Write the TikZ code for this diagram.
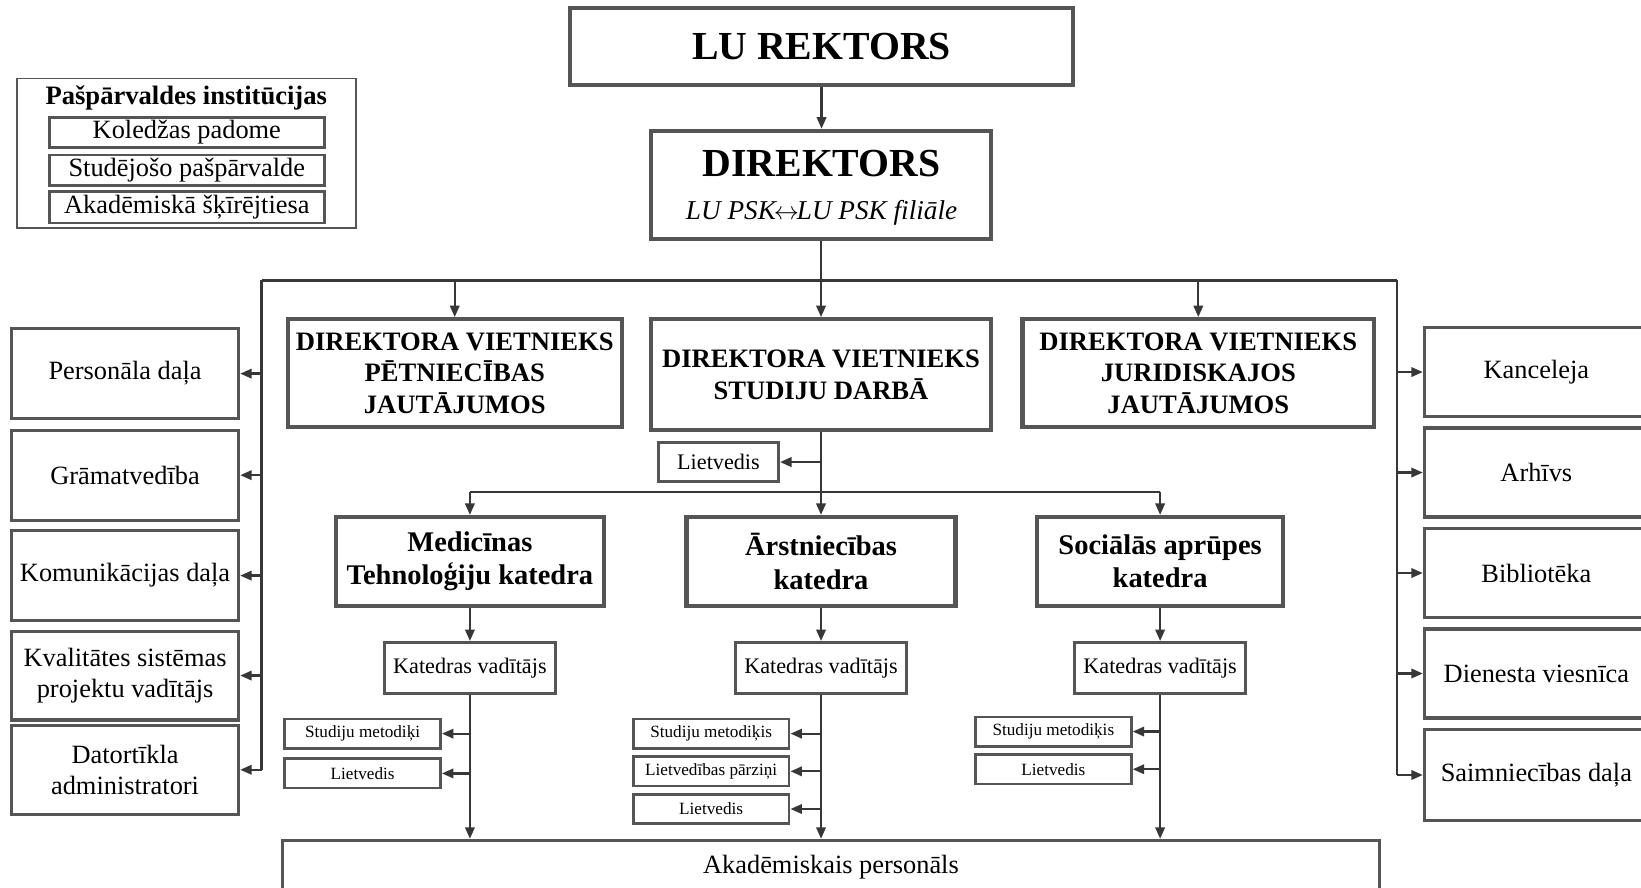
\documentclass[tikz,border=0pt]{standalone}
\usepackage{fontspec}
\setmainfont{Liberation Serif}
\usetikzlibrary{arrows.meta}
\definecolor{bgray}{RGB}{85,85,85}
\definecolor{lgray}{RGB}{55,55,55}
\begin{document}
\begin{tikzpicture}[x=0.5pt,y=-0.5pt,
  sz/.style 2 args={minimum width=#1*0.5pt, minimum height=#2*0.5pt},
  box/.style={draw=bgray, fill=white, inner sep=0pt, align=center, line width=1.5pt},
  thickbox/.style={box, line width=2pt},
  smallbox/.style={box, line width=1.3pt},
  conn/.style={draw=lgray, line width=1.1pt},
  arr/.style={conn, -{Triangle[length=5.5pt,width=4.5pt]}},
  ftbig/.style={font=\fontsize{19}{22}\selectfont\bfseries},
  ftdv/.style={font=\fontsize{12.7}{15}\selectfont\bfseries},
  ftkat/.style={font=\fontsize{13.6}{16}\selectfont\bfseries},
  ftnorm/.style={font=\fontsize{12.6}{15}\selectfont},
  ftmid/.style={font=\fontsize{10.6}{12}\selectfont},
  ftsmall/.style={font=\fontsize{8.2}{10}\selectfont},
]
\fill[white] (0,0) rectangle (1568,848);
\useasboundingbox (0,0) rectangle (1568,848);

% legend
\node[draw=bgray,line width=0.8pt,sz={324}{143}] (leg) at (178,146.5) {};
\node[ftdv] (legt) at (178,94) {Pašpārvaldes institūcijas};
\node[smallbox,sz={263}{29},ftnorm] (l1) at (178.5,126.5) {Koledžas padome};
\node[smallbox,sz={263}{29},ftnorm] (l2) at (178.5,162.5) {Studējošo pašpārvalde};
\node[smallbox,sz={263}{30},ftnorm] (l3) at (178.5,198) {Akadēmiskā šķīrējtiesa};

% top
\node[thickbox,sz={480}{73},ftbig] (rek) at (785,44.5) {LU REKTORS};
\node[thickbox,sz={325}{103}] (dir) at (784.5,176.5) {};
\node[ftbig,anchor=base] (dirt) at (785,169) {DIREKTORS};
\node[font=\fontsize{13}{15}\selectfont\itshape,anchor=base] (dirs) at (785,210) {LU PSK\kern-1pt$\leftrightarrow$\kern-1pt LU PSK filiāle};

% deputies
\node[thickbox,sz={319}{103},ftdv] (dvp) at (434.5,356.5) {DIREKTORA VIETNIEKS\\PĒTNIECĪBAS\\JAUTĀJUMOS};
\node[thickbox,sz={325}{106},ftdv] (dvs) at (784.5,358) {DIREKTORA VIETNIEKS\\STUDIJU DARBĀ};
\node[thickbox,sz={336}{103},ftdv] (dvj) at (1145,356.5) {DIREKTORA VIETNIEKS\\JURIDISKAJOS\\JAUTĀJUMOS};

% left units
\node[box,sz={217}{86},ftnorm] (pers) at (119.5,357) {Personāla daļa};
\node[box,sz={217}{86},ftnorm] (gram) at (119.5,454) {Grāmatvedība};
\node[box,sz={217}{86},ftnorm] (kom) at (119.5,550) {Komunikācijas daļa};
\node[box,sz={217}{85},ftnorm] (kval) at (119.5,645.5) {Kvalitātes sistēmas\\projektu vadītājs};
\node[box,sz={217}{85},ftnorm] (dat) at (119.5,735.5) {Datortīkla\\administratori};

% right units
\node[box,sz={214}{85},ftnorm] (kanc) at (1468,355.5) {Kanceleja};
\node[box,sz={214}{85},ftnorm] (arh) at (1468,451.5) {Arhīvs};
\node[box,sz={214}{85},ftnorm] (bib) at (1468,547.5) {Bibliotēka};
\node[box,sz={214}{85},ftnorm] (dien) at (1468,643.5) {Dienesta viesnīca};
\node[box,sz={214}{87},ftnorm] (saim) at (1468,740.5) {Saimniecības daļa};

% study deputy side
\node[smallbox,sz={115}{37},ftmid] (lv0) at (686.5,441.5) {Lietvedis};

% departments
\node[thickbox,sz={256}{85},ftkat] (med) at (449,536.5) {Medicīnas\\Tehnoloģiju katedra};
\node[thickbox,sz={257}{85},ftkat] (arst) at (784.5,536.5) {Ārstniecības\\katedra};
\node[thickbox,sz={235}{85},ftkat] (soc) at (1108.5,536.5) {Sociālās aprūpes\\katedra};

\node[box,sz={163}{49},ftmid] (kv1) at (449,638.5) {Katedras vadītājs};
\node[box,sz={163}{49},ftmid] (kv2) at (784.5,638.5) {Katedras vadītājs};
\node[box,sz={163}{49},ftmid] (kv3) at (1108.5,638.5) {Katedras vadītājs};

\node[smallbox,sz={149}{28},ftsmall] (sm1) at (346.5,701) {Studiju metodiķi};
\node[smallbox,sz={149}{28},ftsmall] (lv1) at (346.5,739) {Lietvedis};
\node[smallbox,sz={149}{28},ftsmall] (sm2) at (679.5,701) {Studiju metodiķis};
\node[smallbox,sz={149}{28},ftsmall] (lp2) at (679.5,737) {Lietvedības pārziņi};
\node[smallbox,sz={149}{28},ftsmall] (lv2) at (679.5,773) {Lietvedis};
\node[smallbox,sz={149}{28},ftsmall] (sm3) at (1006.5,699) {Studiju metodiķis};
\node[smallbox,sz={149}{28},ftsmall] (lv3) at (1006.5,735) {Lietvedis};

\node[box,sz={1048}{52},ftnorm] (akad) at (794,829) {Akadēmiskais personāls};

% connectors
\coordinate (bl) at (250,268);
\coordinate (br) at (1335,268);
\coordinate (bus2) at (785,470);
\draw[arr] (rek.south) -- (rek.south |- dir.north);
\draw[conn] (bl) -- (br);
\draw[arr] (dir.south) -- (dvs.north);
\draw[arr] (dvp.north |- bl) -- (dvp.north);
\draw[arr] (dvj.north |- bl) -- (dvj.north);

\draw[conn] (bl) -- (bl |- dat.east);
\foreach \n in {pers,gram,kom,kval,dat} \draw[arr] (bl |- \n.east) -- (\n.east);
\draw[conn] (br) -- (br |- saim.west);
\foreach \n in {kanc,arh,bib,dien,saim} \draw[arr] (br |- \n.west) -- (\n.west);

\draw[arr] (dvs.south |- lv0.east) -- (lv0.east);
\draw[arr] (dvs.south) -- (arst.north);
\draw[conn] (med.north |- bus2) -- (soc.north |- bus2);
\draw[arr] (med.north |- bus2) -- (med.north);
\draw[arr] (soc.north |- bus2) -- (soc.north);

\draw[arr] (med.south) -- (kv1.north);
\draw[arr] (arst.south) -- (kv2.north);
\draw[arr] (soc.south) -- (kv3.north);

\draw[arr] (kv1.south) -- (kv1.south |- akad.north);
\draw[arr] (kv2.south) -- (kv2.south |- akad.north);
\draw[arr] (kv3.south) -- (kv3.south |- akad.north);

\draw[arr] (kv1.south |- sm1.east) -- (sm1.east);
\draw[arr] (kv1.south |- lv1.east) -- (lv1.east);
\draw[arr] (kv2.south |- sm2.east) -- (sm2.east);
\draw[arr] (kv2.south |- lp2.east) -- (lp2.east);
\draw[arr] (kv2.south |- lv2.east) -- (lv2.east);
\draw[arr] (kv3.south |- sm3.east) -- (sm3.east);
\draw[arr] (kv3.south |- lv3.east) -- (lv3.east);
\end{tikzpicture}
\end{document}
